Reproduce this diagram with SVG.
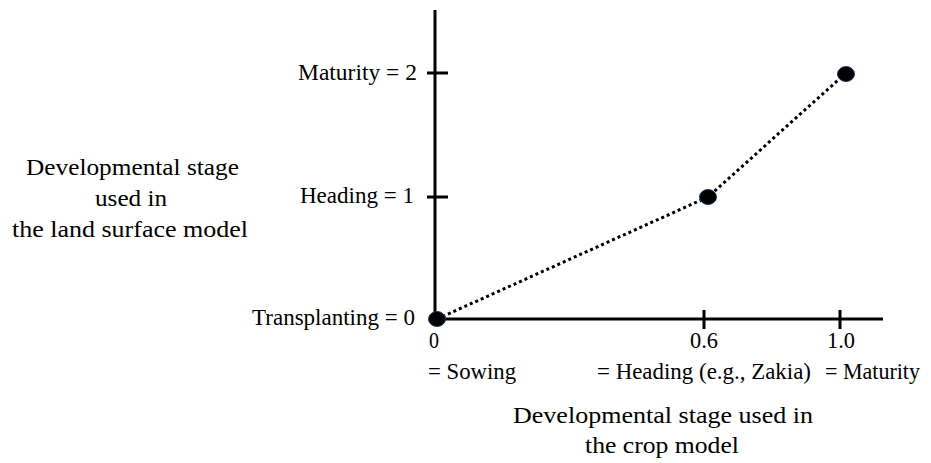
<svg xmlns="http://www.w3.org/2000/svg" width="931" height="463" viewBox="0 0 931 463">
<style>
text{font-family:"Liberation Serif","Times New Roman",serif;font-size:23.5px;fill:#000}
.ax{stroke:#000;stroke-width:3;fill:none}
.dot{fill:#000;stroke:#1f3864;stroke-width:1}
</style>
<rect width="931" height="463" fill="#fff"/>
<g id="axes">
<line class="ax" x1="435" y1="10" x2="435" y2="320"/>
<line class="ax" x1="435" y1="319" x2="883" y2="319"/>
<line class="ax" x1="427" y1="73" x2="448" y2="73"/>
<line class="ax" x1="427" y1="197" x2="448" y2="197"/>
<line class="ax" x1="704" y1="310" x2="704" y2="329"/>
<line class="ax" x1="840" y1="310" x2="840" y2="329"/>
</g>
<g id="connectors">
<polyline points="437,319 708,197 846,73" fill="none" stroke="#000" stroke-width="3" stroke-dasharray="3,3"/>
</g>
<g id="p0"><ellipse class="dot" cx="437" cy="319" rx="8.5" ry="7.5"/></g>
<g id="p1"><ellipse class="dot" cx="708" cy="197" rx="8.5" ry="7.5"/></g>
<g id="p2"><ellipse class="dot" cx="846" cy="74" rx="8.5" ry="7.5"/></g>
<g id="ylabels">
<text x="298" y="80" textLength="119" lengthAdjust="spacingAndGlyphs">Maturity = 2</text>
<text x="300" y="203" textLength="114" lengthAdjust="spacingAndGlyphs">Heading = 1</text>
<text x="252" y="325" textLength="163" lengthAdjust="spacingAndGlyphs">Transplanting = 0</text>
</g>
<g id="xlabels">
<text x="429" y="348" textLength="10" lengthAdjust="spacingAndGlyphs">0</text>
<text x="690" y="348" textLength="28" lengthAdjust="spacingAndGlyphs">0.6</text>
<text x="827" y="348" textLength="28" lengthAdjust="spacingAndGlyphs">1.0</text>
<text x="428" y="379" textLength="88" lengthAdjust="spacingAndGlyphs">= Sowing</text>
<text x="597" y="379" textLength="214" lengthAdjust="spacingAndGlyphs">= Heading (e.g., Zakia)</text>
<text x="825" y="379" textLength="95" lengthAdjust="spacingAndGlyphs">= Maturity</text>
</g>
<g id="xtitle">
<text x="513" y="423" textLength="300" lengthAdjust="spacingAndGlyphs">Developmental stage used in</text>
<text x="585" y="453" textLength="154" lengthAdjust="spacingAndGlyphs">the crop model</text>
</g>
<g id="ytitle">
<text x="26" y="175" textLength="213" lengthAdjust="spacingAndGlyphs">Developmental stage</text>
<text x="95" y="206" textLength="72" lengthAdjust="spacingAndGlyphs">used in</text>
<text x="12" y="237" textLength="236" lengthAdjust="spacingAndGlyphs">the land surface model</text>
</g>
</svg>
